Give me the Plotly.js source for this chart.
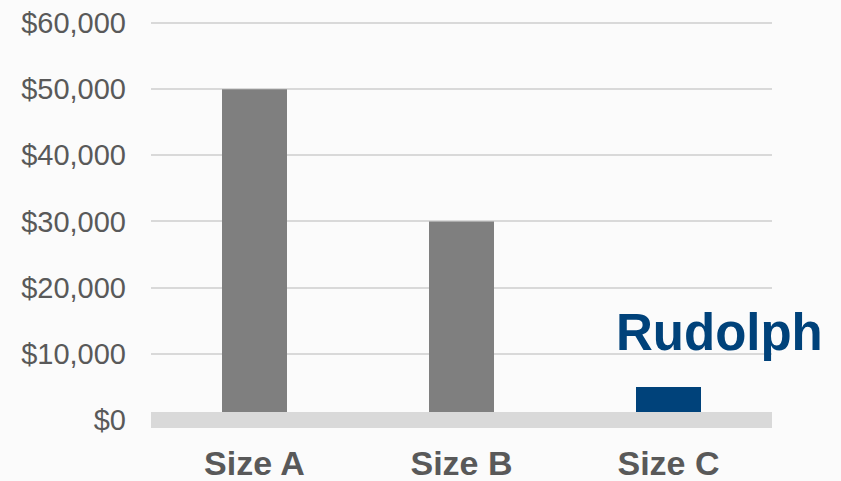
<!DOCTYPE html>
<html>
<head>
<meta charset="utf-8">
<script src="https://cdn.plot.ly/plotly-3.0.1.min.js"></script>
<style>html,body{margin:0;padding:0;background:#fbfbfb;}#chart{width:841px;height:481px;}</style>
</head>
<body>
<div id="chart"></div>
<script>
const categories = ["Size A", "Size B", "Size C"];
const values = [50000, 30000, 5000];
const barColors = ["#7f7f7f", "#7f7f7f", "#00427a"];
const yTickVals = [0, 10000, 20000, 30000, 40000, 50000, 60000];
const yTickText = ["$0", "$10,000", "$20,000", "$30,000", "$40,000", "$50,000", "$60,000"];
const brandLabel = "Rudolph";

const trace = {
  type: "bar",
  x: categories,
  y: values,
  marker: {color: barColors},
  hoverinfo: "none"
};

const layout = {
  width: 841,
  height: 481,
  margin: {l: 151, r: 69, t: 19, b: 61},
  paper_bgcolor: "#fbfbfb",
  plot_bgcolor: "rgba(0,0,0,0)",
  bargap: 0.686,
  showlegend: false,
  xaxis: {
    type: "category",
    showgrid: false,
    zeroline: false,
    showline: false,
    ticks: "",
    ticklabelstandoff: 20,
    tickfont: {family: "Liberation Sans, Arial, sans-serif", size: 34, color: "#595959", weight: "bold"}
  },
  yaxis: {
    range: [0, 60600],
    tickvals: yTickVals,
    ticktext: yTickText,
    showgrid: true,
    gridcolor: "#d9d9d9",
    gridwidth: 2,
    zeroline: false,
    showline: false,
    ticks: "",
    ticklabelstandoff: 24,
    tickfont: {family: "Liberation Sans, Arial, sans-serif", size: 29, color: "#595959"}
  },
  shapes: [{
    type: "line",
    xref: "paper", x0: 0, x1: 1,
    yref: "paper", y0: 0, y1: 0,
    line: {color: "#d9d9d9", width: 16},
    layer: "above"
  }],
  annotations: [{
    text: brandLabel,
    xref: "paper", yref: "paper",
    x: 0.915, y: 0.219,
    xanchor: "center", yanchor: "middle",
    showarrow: false,
    font: {family: "Liberation Sans, Arial, sans-serif", size: 51, color: "#00427a", weight: "bold"}
  }]
};

Plotly.newPlot("chart", [trace], layout, {displayModeBar: false, staticPlot: true});
</script>
</body>
</html>
